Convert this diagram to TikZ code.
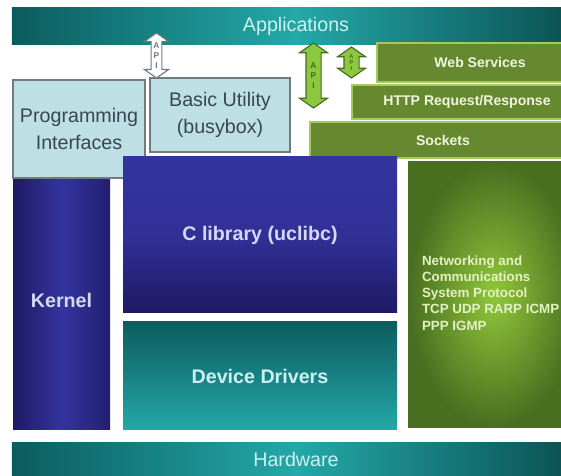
\documentclass[tikz,border=0pt]{standalone}
\usepackage{fontspec}
\setmainfont{Liberation Sans}
\usepackage{xcolor}
\usetikzlibrary{shapes.arrows}
\definecolor{tealDark}{RGB}{12,92,94}
\definecolor{tealLight}{RGB}{36,168,168}
\definecolor{tealText}{RGB}{205,240,240}
\definecolor{paleBlue}{RGB}{190,224,228}
\definecolor{paleEdge}{RGB}{112,122,128}
\definecolor{paleText}{RGB}{55,70,82}
\definecolor{olive}{RGB}{102,136,46}
\definecolor{oliveEdge}{RGB}{165,200,95}
\definecolor{oliveText}{RGB}{238,246,224}
\definecolor{kernBlue}{RGB}{52,52,160}
\definecolor{kernDark}{RGB}{30,26,100}
\definecolor{kernText}{RGB}{212,216,242}
\definecolor{netLight}{RGB}{145,198,58}
\definecolor{netDark}{RGB}{72,110,32}
\definecolor{netText}{RGB}{226,242,196}
\definecolor{apiGreen}{RGB}{140,200,62}
\definecolor{apiEdge}{RGB}{70,108,30}
\newcommand{\shaft}[1]{\rule{0pt}{#1}}

\begin{document}
\begin{tikzpicture}[
    bar/.style={inner sep=0pt,text=tealText,font=\fontsize{14}{16}\selectfont,left color=tealDark,right color=tealDark!85!black,middle color=tealLight},
    pale/.style={fill=paleBlue,draw=paleEdge,line width=1.2pt,text=paleText,inner sep=0pt,align=center,font=\fontsize{14}{19}\selectfont},
    proto/.style={fill=olive,draw=oliveEdge,line width=0.8pt,text=oliveText,inner sep=0pt,font=\fontsize{10}{12}\selectfont\bfseries},
    block/.style={inner sep=0pt,font=\fontsize{14}{16}\selectfont\bfseries},
    apiArrow/.style={double arrow,rotate=90,inner sep=0pt,line width=0.8pt,double arrow head extend=0.16cm,double arrow tip angle=110},
    apiText/.style={inner sep=0pt,align=center,font=\fontsize{6}{7}\selectfont\bfseries}]
    \useasboundingbox (0,0) rectangle (14.025,11.9);

    % Top and bottom layers
    \node[bar,minimum width=14.2cm,minimum height=0.925cm] (apps) at (7.4,11.2375) {Applications};
    \node[bar,minimum width=14.2cm,minimum height=0.825cm] (hw) at (7.4,0.4125) {Hardware};

    % User space
    \node[pale,minimum width=3.3cm,minimum height=2.45cm] (prog) at (1.975,8.675) {Programming\\Interfaces};
    \node[pale,minimum width=3.5cm,minimum height=1.85cm] (busy) at (5.5,9.025) {Basic Utility\\(busybox)};

    % Protocol stack
    \node[proto,minimum width=5.15cm,minimum height=0.975cm] (web) at (12.0,10.3375) {Web Services};
    \node[proto,minimum width=5.75cm,minimum height=0.85cm] (http) at (11.675,9.35) {HTTP Request/Response};
    \node[proto,minimum width=6.65cm,minimum height=0.9cm] (sock) at (11.075,8.4) {Sockets};

    % Kernel space
    \node[block,text=kernText,minimum width=2.425cm,minimum height=6.25cm,left color=kernDark,right color=kernDark!80!kernBlue,middle color=kernBlue] (kern) at (1.5375,4.275) {\raisebox{0.25cm}{Kernel}};
    \node[block,text=kernText,minimum width=6.85cm,minimum height=3.9cm,shading angle=150,top color=kernBlue,bottom color=kernDark,middle color=kernBlue!85!kernDark] (clib) at (6.5,6.025) {C library (uclibc)};
    \node[block,text=tealText,minimum width=6.85cm,minimum height=2.7cm,shading angle=70,top color=tealDark,bottom color=tealLight] (drv) at (6.5,2.5) {Device Drivers};
    \node[inner sep=0pt,minimum width=4.3cm,minimum height=6.65cm,inner color=netLight,outer color=netDark] (net) at (12.35,4.525) {};
    \node[anchor=west,inner sep=0pt,align=left,text=netText,font=\fontsize{9.5}{11.5}\selectfont\bfseries] (netTxt) at ([xshift=0.35cm,yshift=0.05cm]net.west) {Networking and\\Communications\\System Protocol\\TCP UDP RARP ICMP\\PPP IGMP};

    % API arrows
    \node[apiArrow,fill=white,draw=paleEdge,minimum height=1.125cm,double arrow head extend=0.17cm] (apiW) at (3.9125,10.5125) {\shaft{0.24cm}};
    \node[apiText,text=paleEdge] at (apiW) {A\\P\\I};
    \node[apiArrow,fill=apiGreen,draw=apiEdge,minimum height=1.625cm] (apiL) at (7.8375,10.0125) {\shaft{0.35cm}};
    \node[apiText,text=apiEdge] at (apiL) {A\\P\\I};
    \node[apiArrow,fill=apiGreen,draw=apiEdge,minimum height=0.775cm] (apiS) at (8.7875,10.3375) {\shaft{0.35cm}};
    \node[apiText,text=apiEdge,font=\fontsize{4}{4.5}\selectfont\bfseries] at (apiS) {A\\P\\I};
\end{tikzpicture}
\end{document}
